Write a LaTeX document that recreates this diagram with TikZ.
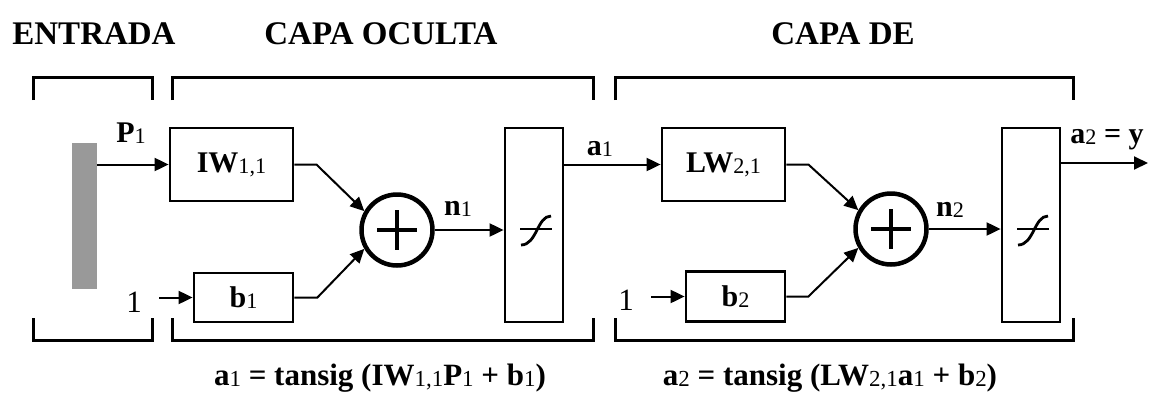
\documentclass[tikz,border=0pt]{standalone}
\usepackage{fontspec}
\setmainfont{Liberation Serif}
\usepackage{graphicx}
\usetikzlibrary{arrows.meta}
\definecolor{bargray}{RGB}{153,153,153}
\newcommand\sbs[1]{\textmd{\raisebox{-0.08ex}{\scalebox{0.74}{#1}}}}
\newcommand\tansigicon[1]{%
  \draw[sigax] ([shift={(-14,4)}]#1.center) -- ([shift={(18,4)}]#1.center);
  \draw[sig] ([shift={(-13,20)}]#1.center) .. controls +(16,0) and +(-14,0) .. ([shift={(17,-9)}]#1.center);
}
\begin{document}
\begin{tikzpicture}[x=1pt,y=-1pt,
  blk/.style={draw,line width=2.8pt,inner sep=0pt,font=\fontsize{30}{33}\selectfont\bfseries},
  sumc/.style={circle,draw,line width=4.5pt,minimum size=71pt,inner sep=0pt},
  conn/.style={line width=2pt,-{Triangle[length=14pt,width=13pt]}},
  brk/.style={line width=3pt},
  plusarm/.style={line width=4pt},
  lbl/.style={font=\fontsize{30}{33}\selectfont\bfseries,inner sep=0pt,anchor=base},
  onelbl/.style={font=\fontsize{31}{34}\selectfont,inner sep=0pt,anchor=base},
  ttl/.style={font=\fontsize{33}{36}\selectfont\bfseries,inner sep=0pt,anchor=base},
  eqn/.style={font=\fontsize{31}{34}\selectfont\bfseries,inner sep=0pt,anchor=base},
  sig/.style={line width=2.8pt},
  sigax/.style={line width=1.5pt}]
\useasboundingbox (0,0) rectangle (1149,394);

% titles
\node[ttl] (tEntrada) at (94,44) {ENTRADA};
\node[ttl] (tOculta) at (381,44) {CAPA OCULTA};
\node[ttl] (tDe) at (843,44) {CAPA DE};

% brackets
\draw[brk] (33,100) -- (33,77) -- (152,77) -- (152,100);
\draw[brk] (172,100) -- (172,77) -- (593,77) -- (593,100);
\draw[brk] (615,100) -- (615,77) -- (1073,77) -- (1073,100);
\draw[brk] (33,318) -- (33,340) -- (152,340) -- (152,318);
\draw[brk] (172,318) -- (172,340) -- (593,340) -- (593,318);
\draw[brk] (615,318) -- (615,340) -- (1073,340) -- (1073,318);

% input bar
\node[fill=bargray,minimum width=25pt,minimum height=146pt,inner sep=0pt] (inp) at (84.5,216) {};

% blocks
\node[blk,minimum width=123pt,minimum height=73pt] (IW) at (231.5,164.5) {IW\sbs{1,1}};
\node[blk,minimum width=99pt,minimum height=49pt] (b1) at (243.5,297.5) {b\sbs{1}};
\node[sumc] (s1) at (397,230) {};
\node[blk,minimum width=58pt,minimum height=194pt] (t1) at (534,225) {};
\node[blk,minimum width=123pt,minimum height=73pt] (LW) at (723.5,164.5) {LW\sbs{2,1}};
\node[blk,minimum width=99pt,minimum height=50pt] (b2) at (735.5,296.5) {b\sbs{2}};
\node[sumc] (s2) at (891,229) {};
\node[blk,minimum width=58pt,minimum height=194pt] (t2) at (1031,225) {};

% plus signs
\draw[plusarm] (s1.center) +(-20,0) -- +(20,0);
\draw[plusarm] (s1.center) +(0,-20) -- +(0,20);
\draw[plusarm] (s2.center) +(-20,0) -- +(20,0);
\draw[plusarm] (s2.center) +(0,-20) -- +(0,20);

% sigmoid icons
\tansigicon{t1}
\tansigicon{t2}

% labels
\node[lbl] (lP) at (131,142) {P\sbs{1}};
\node[lbl] (la1) at (600,155) {a\sbs{1}};
\node[lbl] (ln1) at (458,215) {n\sbs{1}};
\node[lbl] (ln2) at (950,216) {n\sbs{2}};
\node[lbl] (la2) at (1107,143) {a\sbs{2} = y};
\node[onelbl] (one1) at (134,312) {1};
\node[onelbl] (one2) at (626,310) {1};

% formulas
\node[eqn] (f1) at (380,385) {a\sbs{1} = tansig (IW\sbs{1,1}P\sbs{1} + b\sbs{1})};
\node[eqn] (f2) at (830,385) {a\sbs{2} = tansig (LW\sbs{2,1}a\sbs{1} + b\sbs{2})};

% connectors
\coordinate (c1) at (159,297.5);
\coordinate (c2) at (651,296.5);
\coordinate (out) at (1148,163);
\draw[conn] (inp.east |- IW.west) -- (IW.west);
\draw[conn] (IW.east) -- ++(22,0) -- (s1.150);
\draw[conn] (b1.east) -- ++(23,0) -- (s1.210);
\draw[conn] (s1.east) -- (s1.east -| t1.west);
\draw[conn] (t1.east |- LW.west) -- (LW.west);
\draw[conn] (c1) -- (b1.west);
\draw[conn] (LW.east) -- ++(22,0) -- (s2.150);
\draw[conn] (b2.east) -- ++(22,0) -- (s2.210);
\draw[conn] (s2.east) -- (s2.east -| t2.west);
\draw[conn] (t2.east |- out) -- (out);
\draw[conn] (c2) -- (b2.west);
\end{tikzpicture}
\end{document}
